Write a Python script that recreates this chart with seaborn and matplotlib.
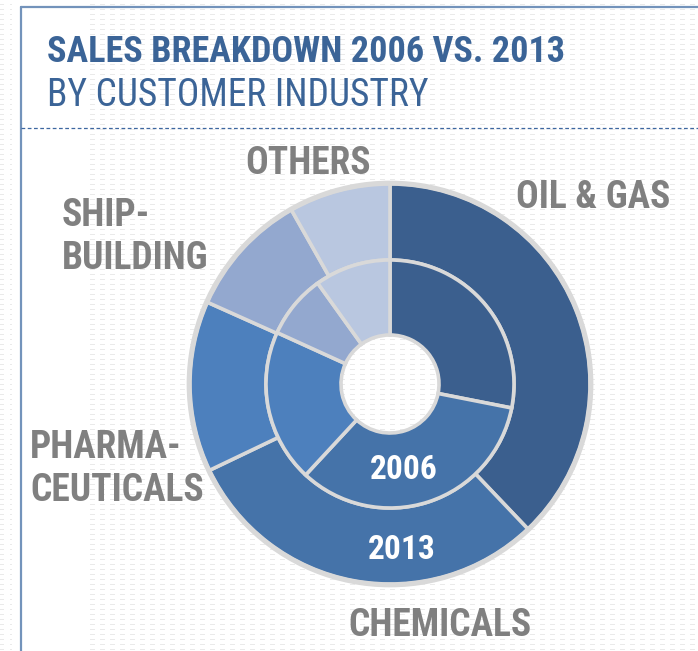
import numpy as np
import matplotlib
matplotlib.use("Agg")
import matplotlib.pyplot as plt
import seaborn as sns

# data (share of sales, %)
industries = ["OIL & GAS", "CHEMICALS", "PHARMA-\nCEUTICALS", "SHIP-\nBUILDING", "OTHERS"]
sales_2013 = [37.9, 30.0, 13.8, 10.1, 8.2]
sales_2006 = [28.1, 33.8, 19.9, 8.3, 9.9]
colors = ["#3b5f8e", "#4573a9", "#4d80bd", "#93a8cf", "#b9c7e0"]

sns.set_theme(style="white")
plt.rcParams["font.family"] = ["Roboto Condensed", "Liberation Sans", "DejaVu Sans"]

W, H = 698, 651
fig = plt.figure(figsize=(W / 100, H / 100), dpi=100)
fig.patch.set_facecolor("white")

# faint dotted background texture
bg = np.ones((H, W, 3))
yy, xx = np.mgrid[0:H, 0:W]
dots = (yy % 5 == 0) & (xx % 10 < 5) & ((xx >= 85) | (xx < 12))
bg[dots] = 0.92
bax = fig.add_axes([0, 0, 1, 1])
bax.imshow(bg, interpolation="nearest", aspect="auto")
bax.set_xlim(0, W)
bax.set_ylim(H, 0)
bax.axis("off")

# frame lines and dashed separator
bax.plot([21, 21], [7, H], color="#7393bb", lw=1.6)
bax.plot([21, W], [7, 7], color="#7393bb", lw=1.6)
bax.plot([21, W], [128, 128], color="#3d67a0", lw=0.9, ls=(0, (3, 2)))

title_col = "#3b6497"
bax.text(47, 62, "SALES BREAKDOWN 2006 VS. 2013", fontsize=26, fontweight="bold",
         color=title_col, va="baseline", ha="left")
bax.text(47, 106, "BY CUSTOMER INDUSTRY", fontsize=27, color=title_col,
         va="baseline", ha="left")

# donut axes, one unit = one pixel
cx, cy, half = 390, 384, 215
pax = fig.add_axes([(cx - half) / W, (H - cy - half) / H, 2 * half / W, 2 * half / H])

edge = dict(edgecolor="#d9d9d9", linewidth=2.6)
pax.pie(sales_2013, colors=colors, startangle=90, counterclock=False, radius=200,
        wedgeprops=dict(width=76, **edge))
pax.pie(sales_2006, colors=colors, startangle=90, counterclock=False, radius=124,
        wedgeprops=dict(width=75, **edge))
pax.set_xlim(-half, half)
pax.set_ylim(-half, half)
pax.set_aspect("equal")
pax.axis("off")
pax.add_patch(plt.Circle((0, 0), 201, fill=False, edgecolor="#d9d9d9", lw=3.4))

pax.text(14, -86, "2006", color="white", fontsize=24, fontweight="bold", ha="center", va="center")
pax.text(12, -166, "2013", color="white", fontsize=24, fontweight="bold", ha="center", va="center")

lab = dict(fontsize=27, fontweight="bold", color="#808080", linespacing=1.2)
label_pos = [(516, 198), (348, 626), (30, 469), (62, 237), (245, 163)]
for name, (x, y) in zip(industries, label_pos):
    bax.text(x, y, name, ha="left", va="center", **lab)

fig.savefig("out.png", dpi=100, facecolor="white")
